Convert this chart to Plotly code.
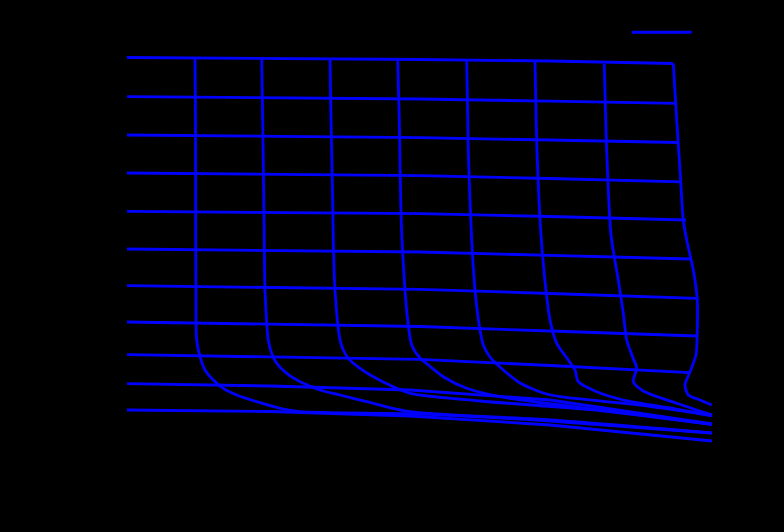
import plotly.graph_objects as go

# Horizontal mesh lines (rows), top to bottom
row_x = [
    [7, 150, 300, 430, 553],
    [7, 150, 300, 430, 557],
    [7, 150, 300, 430, 559],
    [7, 150, 300, 430, 561],
    [7, 150, 300, 430, 566],
    [7, 150, 300, 430, 570],
    [7, 150, 300, 430, 577],
    [7, 150, 300, 430, 577],
    [7, 150, 300, 430, 570],
    [7, 150, 290, 430, 592],
    [7, 150, 290, 430, 592],
]
row_y = [
    [402.5, 401.8, 400.5, 399, 396.5],
    [363.3, 362.3, 361, 358.8, 356.7],
    [325, 323.8, 322.3, 320, 317.5],
    [287, 285.8, 284.3, 281.5, 278.2],
    [248.7, 247.7, 246.3, 243.5, 240],
    [211, 209.7, 208, 204.7, 201],
    [174.3, 172.7, 170.7, 166.5, 161.7],
    [138, 136, 133.5, 129, 124],
    [105.3, 103.3, 100.7, 94.5, 87.3],
    [76.3, 74, 70, 60, 36],
    [50, 48.5, 44, 35, 19],
]

# Vertical mesh curves (columns), left to right
col_x = [
    [75, 75.5, 75.7, 76, 76.7, 80, 85, 93.3, 103.3, 116.7, 136.7, 160, 180, 300, 430, 592],
    [141.7, 142.7, 144.3, 145, 148.3, 151.7, 156.7, 166.7, 183.3, 200, 220, 246.7, 290, 430, 592],
    [210, 211, 212.7, 213.3, 215, 220, 223.3, 228.3, 240, 253.3, 273.3, 290, 360, 480, 592],
    [277.7, 279.3, 280.7, 282, 285, 287.7, 291.7, 300, 308.3, 323.3, 346.7, 380, 480, 592],
    [346.7, 348.3, 350, 351.7, 355, 360, 363.3, 370, 383.3, 400, 423.3, 440, 520, 592],
    [415, 417, 421, 426.7, 430, 436.7, 448.3, 455, 458.3, 476.7, 503.3, 550, 592],
    [484.3, 486.7, 491, 498.3, 503.3, 506.7, 513, 516.7, 513.3, 523.3, 556.7, 592],
    [553.3, 556.7, 560, 563.3, 566.7, 573.3, 577.3, 577.3, 576, 570, 565, 568.3, 580, 591.7],
]
col_y = [
    [402.5, 340, 220, 170, 120, 103.3, 90, 80, 71.7, 65, 58.3, 51.7, 48.3, 46, 39, 27],
    [401.8, 340, 220, 170, 120, 106.7, 96.7, 86.7, 76.7, 70, 65, 58.3, 48.3, 40, 27],
    [401.2, 340, 260, 220, 170, 120, 110, 101.7, 91.7, 83.3, 73.3, 66.7, 59, 49.5, 35.5],
    [400.7, 340, 260, 220, 170, 140, 115, 102, 95, 83.3, 71.7, 63.3, 50, 36],
    [400, 310, 260, 220, 170, 130, 115, 103, 90, 77, 67, 63.3, 55, 45],
    [399, 310, 225, 163.3, 140, 116.7, 100, 90, 78.3, 68.3, 60, 52, 44],
    [396, 310, 225, 180, 146.7, 120, 102, 92, 78.3, 69, 56.7, 45],
    [396.5, 340, 290, 240, 220, 190, 160, 130, 105, 88, 75, 65, 60, 55],
]

blue = "#0000ff"
fig = go.Figure()

for i, (xs, ys) in enumerate(zip(row_x, row_y)):
    fig.add_trace(go.Scatter(x=xs, y=ys, mode="lines", name="mesh",
                             line=dict(color=blue, width=2.8),
                             showlegend=(i == 0)))

for xs, ys in zip(col_x, col_y):
    fig.add_trace(go.Scatter(x=xs, y=ys, mode="lines",
                             line=dict(color=blue, width=2.8, shape="spline", smoothing=0.7),
                             showlegend=False))

fig.update_layout(
    width=784, height=532,
    margin=dict(l=100, r=44, t=20, b=62),
    paper_bgcolor="black", plot_bgcolor="black",
    font=dict(color="black", family="DejaVu Sans", size=12),
    legend=dict(x=0.823, y=1.005, xanchor="left", yanchor="top",
                bgcolor="black", itemwidth=60, font=dict(color="black")),
)
fig.update_xaxes(range=[-20, 620], showgrid=False, zeroline=False, showline=False)
fig.update_yaxes(range=[-10, 440], showgrid=False, zeroline=False, showline=False)

# drop the browser's default page margin so the figure sits at the window corner
fig.write_html("out.html", config={"displayModeBar": False},
               post_script="document.body.style.margin='0';document.body.style.background='black';")
